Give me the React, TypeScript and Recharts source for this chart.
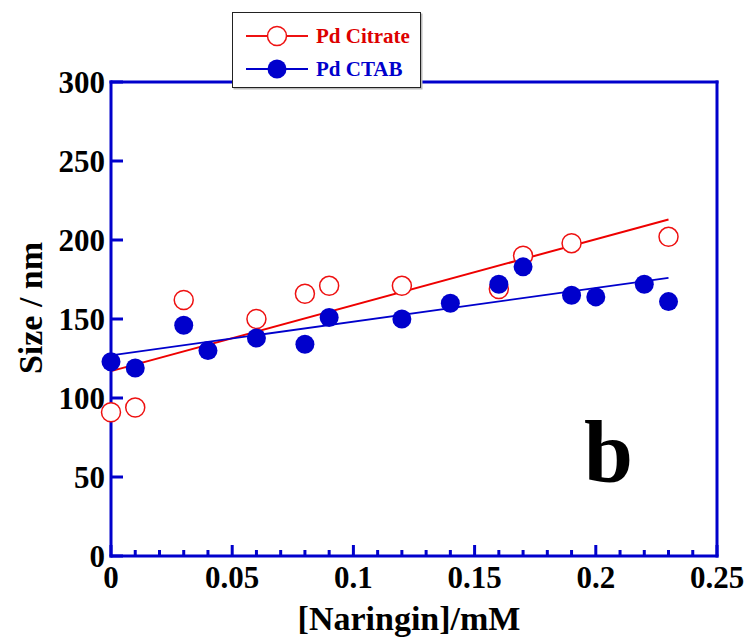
import React from "react";
import { ComposedChart, Line, Scatter, XAxis, YAxis } from "recharts";

// naringin concentration (mM) and particle size (nm)
const citrateX = [0, 0.01, 0.03, 0.06, 0.08, 0.09, 0.12, 0.16, 0.17, 0.19, 0.23];
const citrateSize = [91, 94, 162, 150, 166, 171, 171, 169, 190, 198, 202];

const ctabX = [0, 0.01, 0.03, 0.04, 0.06, 0.08, 0.09, 0.12, 0.14, 0.16, 0.17, 0.19, 0.2, 0.22, 0.23];
const ctabSize = [123, 119, 146, 130, 138, 134, 151, 150, 160, 172, 183, 165, 164, 172, 161];

// linear fit end points
const fitX = [0, 0.23];
const citrateFit = [117, 213];
const ctabFit = [127, 176];

const xTicks = [
  0, 0.01, 0.02, 0.03, 0.04, 0.05, 0.06, 0.07, 0.08, 0.09, 0.1, 0.11, 0.12, 0.13,
  0.14, 0.15, 0.16, 0.17, 0.18, 0.19, 0.2, 0.21, 0.22, 0.23, 0.24, 0.25,
];
const xMajor = [0, 0.05, 0.1, 0.15, 0.2, 0.25];
const xLabels = ["0", "0.05", "0.1", "0.15", "0.2", "0.25"];
const yTicks = [0, 50, 100, 150, 200, 250, 300];
const yLabels = ["0", "50", "100", "150", "200", "250", "300"];

const AXIS = "#0000CC";
const RED = "#EE1111";
const BLUE = "#0000CC";
const FONT = "'Liberation Serif', 'Times New Roman', serif";

const toPoints = (xs: number[], ys: number[]) => xs.map((x, i) => ({ x, y: ys[i] }));

const citrateData = toPoints(citrateX, citrateSize);
const ctabData = toPoints(ctabX, ctabSize);
const citrateFitData = toPoints(fitX, citrateFit);
const ctabFitData = toPoints(fitX, ctabFit);

const majorIndex = (v: number) => xMajor.findIndex((m) => Math.abs(m - v) < 1e-9);

const BottomTick = (props: any) => {
  const { x, y, payload } = props;
  const idx = majorIndex(payload.value);
  return (
    <g>
      <line x1={x} x2={x} y1={y} y2={y - (idx >= 0 ? 11 : 6)} stroke={AXIS} strokeWidth={3} />
      {idx >= 0 && (
        <text x={x} y={y + 32} textAnchor="middle" fontFamily={FONT} fontWeight="bold" fontSize={31} fill="#000">
          {xLabels[idx]}
        </text>
      )}
    </g>
  );
};

const TopTick = (props: any) => {
  const { x, y, payload } = props;
  const major = majorIndex(payload.value) >= 0;
  return <line x1={x} x2={x} y1={y} y2={y + (major ? 11 : 6)} stroke={AXIS} strokeWidth={3} />;
};

const LeftTick = (props: any) => {
  const { x, y, payload } = props;
  const idx = yTicks.indexOf(payload.value);
  return (
    <g>
      <line x1={x} x2={x + 12} y1={y} y2={y} stroke={AXIS} strokeWidth={3} />
      <text x={x - 6} y={y + 11} textAnchor="end" fontFamily={FONT} fontWeight="bold" fontSize={31} fill="#000">
        {yLabels[idx]}
      </text>
    </g>
  );
};

const RightTick = (props: any) => {
  const { x, y } = props;
  return <line x1={x} x2={x - 12} y1={y} y2={y} stroke={AXIS} strokeWidth={3} />;
};

const OpenCircle = (props: any) => (
  <circle cx={props.cx} cy={props.cy} r={9.5} fill="#fff" stroke={RED} strokeWidth={1.5} />
);
const FilledCircle = (props: any) => <circle cx={props.cx} cy={props.cy} r={9.5} fill={BLUE} />;

const axisLine = { stroke: AXIS, strokeWidth: 3, strokeLinecap: "square" as const };

function LegendBox() {
  return (
    <div
      style={{
        position: "absolute",
        left: 232,
        top: 12,
        width: 187,
        height: 74,
        background: "#fff",
        border: "1.5px solid #222",
        boxShadow: "1.5px 1.5px 0 #bbb",
      }}
    >
      <svg width={187} height={74}>
        <line x1={13} x2={75} y1={23} y2={23} stroke={RED} strokeWidth={2} />
        <circle cx={44} cy={23} r={9.5} fill="#fff" stroke={RED} strokeWidth={1.5} />
        <text x={83} y={30} fontFamily={FONT} fontWeight="bold" fontSize={21} fill="#DD0000">
          Pd Citrate
        </text>
        <line x1={13} x2={75} y1={56} y2={56} stroke={BLUE} strokeWidth={2} />
        <circle cx={44} cy={56} r={9.5} fill={BLUE} />
        <text x={83} y={63} fontFamily={FONT} fontWeight="bold" fontSize={21} fill={BLUE}>
          Pd CTAB
        </text>
      </svg>
    </div>
  );
}

export default function App() {
  return (
    <div style={{ position: "absolute", left: 0, top: 0, width: 749, height: 640, background: "#fff" }}>
      <ComposedChart width={749} height={640} margin={{ top: 81, right: 31, bottom: 83, left: 110 }}>
        <XAxis
          dataKey="x"
          type="number"
          domain={[0, 0.25]}
          ticks={xTicks}
          interval={0}
          height={1}
          tickSize={0}
          tickMargin={0}
          tickLine={false}
          axisLine={axisLine}
          tick={<BottomTick />}
        />
        <XAxis
          xAxisId="top"
          orientation="top"
          dataKey="x"
          type="number"
          domain={[0, 0.25]}
          ticks={xTicks}
          interval={0}
          height={1}
          tickSize={0}
          tickMargin={0}
          tickLine={false}
          axisLine={axisLine}
          tick={<TopTick />}
        />
        <YAxis
          type="number"
          domain={[0, 300]}
          ticks={yTicks}
          interval={0}
          width={1}
          tickSize={0}
          tickMargin={0}
          tickLine={false}
          axisLine={axisLine}
          tick={<LeftTick />}
        />
        <YAxis
          yAxisId="right"
          orientation="right"
          type="number"
          domain={[0, 300]}
          ticks={yTicks}
          interval={0}
          width={1}
          tickSize={0}
          tickMargin={0}
          tickLine={false}
          axisLine={axisLine}
          tick={<RightTick />}
        />
        <Line data={citrateFitData} dataKey="y" type="linear" stroke="#EE0000" strokeWidth={2} dot={false} isAnimationActive={false} />
        <Line data={ctabFitData} dataKey="y" type="linear" stroke={BLUE} strokeWidth={1.8} dot={false} isAnimationActive={false} />
        <Scatter data={citrateData} dataKey="y" shape={<OpenCircle />} isAnimationActive={false} />
        <Scatter data={ctabData} dataKey="y" shape={<FilledCircle />} isAnimationActive={false} />
      </ComposedChart>
      <svg width={749} height={640} style={{ position: "absolute", left: 0, top: 0, pointerEvents: "none" }}>
        <text x={409} y={630} textAnchor="middle" fontFamily={FONT} fontWeight="bold" fontSize={34} fill="#000">
          [Naringin]/mM
        </text>
        <text
          x={42}
          y={308}
          transform="rotate(-90 42 308)"
          textAnchor="middle"
          fontFamily={FONT}
          fontWeight="bold"
          fontSize={34}
          fill="#000"
        >
          Size / nm
        </text>
        <text x={584} y={482} fontFamily={FONT} fontWeight="bold" fontSize={88} fill="#000">
          b
        </text>
      </svg>
      <LegendBox />
    </div>
  );
}
